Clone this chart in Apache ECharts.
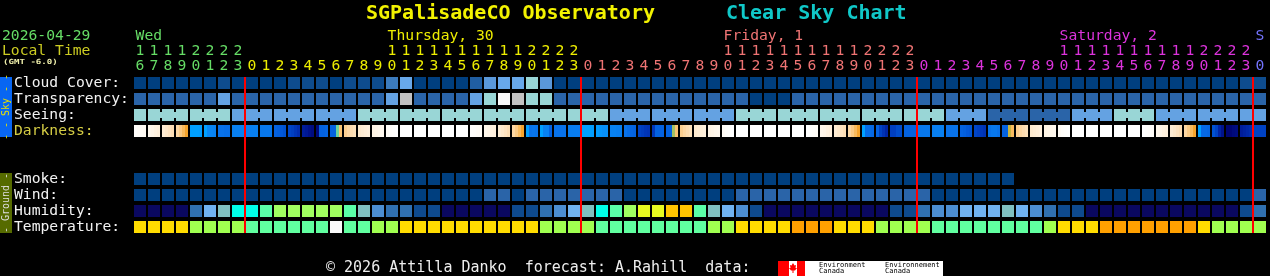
<!DOCTYPE html>
<html><head><meta charset="utf-8">
<script src="https://cdn.jsdelivr.net/npm/echarts@6/dist/echarts.min.js"></script>
<style>html,body{margin:0;padding:0;background:#000;}#c{width:1270px;height:276px;}</style>
</head><body><div id="c"></div>
<script>
// ---------- DATA ----------
const hours = ['16','17','18','19','20','21','22','23',
  '0','1','2','3','4','5','6','7','8','9','10','11','12','13','14','15','16','17','18','19','20','21','22','23',
  '0','1','2','3','4','5','6','7','8','9','10','11','12','13','14','15','16','17','18','19','20','21','22','23',
  '0','1','2','3','4','5','6','7','8','9','10','11','12','13','14','15','16','17','18','19','20','21','22','23',
  '0'];
const rowLabels = ['Cloud Cover:','Transparency:','Seeing:','Darkness:',' ','  ','Smoke:','Wind:','Humidity:','Temperature:'];
const dayNames = ['Wed','Thursday, 30','Friday, 1','Saturday, 2','S'];
const dayNameCols = [0,18,42,66,80];

// cloud cover, percent
const cloud = [0,0,0,0,0,0,10,0,
  0,0,0,10,10,10,0,10,10,10,30,50,0,0,0,0,20,40,50,50,70,40,0,0,
  0,0,0,0,0,0,0,0,0,0,0,0,0,0,0,0,0,0,0,0,0,0,0,0,
  0,0,0,0,0,0,0,0,0,0,0,0,0,0,0,0,0,0,0,0,0,0,0,10,
  10];
// transparency level 0 (too cloudy) .. 5 (transparent)
const transparency = [4,4,4,4,4,4,3,4,
  4,4,4,4,4,4,4,4,4,4,3,1,4,4,4,4,3,2,0,1,2,2,4,4,
  4,4,4,4,4,4,4,4,4,4,4,4,5,5,5,4,4,4,4,4,4,4,4,4,
  4,4,4,4,4,4,4,4,4,4,4,4,4,4,4,4,4,4,4,4,4,4,4,4,
  4];
// seeing level per 3-hour block (first block = first hour only), 1 bad .. 5 excellent
const seeingBlocks = [2,2,2,3,3,3,2,2,2,2,2,2,3,3,3,2,2,2,2,2,3,4,4,3,2,3,3,3];
// darkness, limiting magnitude per quarter hour
const darkness = [
  [-3.8,-3.7,-3.6,-3.5],[-3.3,-3.2,-3.0,-2.9],[-2.7,-2.5,-2.3,-2.1],[-1.8,-1.4,-1.0,-0.5],
  [1.5,1.5,1.5,1.6],[1.5,2.3,2.4,2.5],[3.0,3.0,3.1,3.1],[2.6,2.6,2.6,2.6],
  [2.6,2.6,2.6,2.6],[2.8,2.8,2.8,2.8],[3.5,3.6,3.8,4.0],[4.4,4.6,4.9,5.2],
  [5.8,6.0,6.3,6.5],[6.6,3.5,3.5,3.4],[3.5,3.5,0.5,-1.2],[-1.5,-1.8,-2.0,-2.2],
  [-2.6,-2.7,-2.8,-2.9],[-3.1,-3.2,-3.3,-3.4],[-3.6,-3.8,-3.9,-4],[-4,-4,-4,-4],
  [-4,-4,-4,-4],[-4,-4,-4,-4],[-4,-4,-4,-4],[-4,-4,-4,-4],
  [-3.9,-3.8,-3.7,-3.6],[-3.3,-3.2,-3.0,-2.9],[-2.7,-2.5,-2.3,-2.1],[-1.8,-1.4,-1.0,-0.5],
  [1.5,3.0,2.9,3.0],[1.5,2.5,2.5,3.5],[3.0,3.0,3.0,3.0],[2.7,2.7,2.7,2.7],
  [1.5,1.5,1.5,1.6],[1.6,1.8,2.0,2.0],[2.5,2.5,2.6,2.6],[3.0,3.2,3.4,3.5],
  [4.5,4.7,4.9,5.0],[4.8,3.5,3.5,3.5],[3.5,3.5,0.2,-1.2],[-1.5,-1.8,-2.0,-2.2],
  [-2.6,-2.7,-2.8,-2.9],[-3.1,-3.2,-3.3,-3.4],[-3.6,-3.8,-3.9,-4],[-4,-4,-4,-4],
  [-4,-4,-4,-4],[-4,-4,-4,-4],[-4,-4,-4,-4],[-4,-4,-4,-4],
  [-4,-3.9,-3.8,-3.7],[-3.3,-3.2,-3.0,-2.9],[-2.7,-2.5,-2.3,-2.1],[-1.8,-1.4,-1.0,-0.5],
  [1.5,3.2,3.2,3.3],[3.5,4.5,5.0,5.5],[4.6,4.6,4.2,4.2],[3.5,3.5,3.5,3.5],
  [2.8,2.8,2.8,2.8],[2.6,2.6,2.6,2.6],[3.0,3.0,3.0,3.0],[3.5,3.6,3.8,3.9],
  [4.4,4.6,4.8,5.0],[3.0,2.8,2.8,3.0],[3.5,3.5,0.0,-1.0],[-1.5,-1.8,-2.0,-2.2],
  [-2.6,-2.7,-2.8,-2.9],[-3.1,-3.2,-3.3,-3.4],[-3.6,-3.8,-3.9,-4],[-4,-4,-4,-4],
  [-4,-4,-4,-4],[-4,-4,-4,-4],[-4,-4,-4,-4],[-4,-4,-4,-4],
  [-4,-3.9,-3.8,-3.7],[-3.3,-3.2,-3.0,-2.9],[-2.7,-2.5,-2.3,-2.1],[-1.8,-1.4,-1.0,-0.5],
  [1.5,3.3,3.3,3.4],[4.0,4.5,5.5,6.2],[6.8,6.8,6.6,6.5],[5.8,5.6,5.4,5.2],
  [4.5,4.5,4.5,4.5]];
// smoke (ug/m3), forecast ends early
const smoke = [0,0,0,0,0,0,0,0,
  0,0,0,0,0,0,0,0,0,0,0,0,0,0,0,0,0,0,0,0,0,0,0,0,
  0,0,0,0,0,0,0,0,0,0,0,0,0,0,0,0,0,0,0,0,0,0,0,0,
  0,0,0,0,0,0,0,null,null,null,null,null,null,null,null,null,null,null,null,null,null,null,null,null,
  null];
// wind, mph
const wind = [3,3,3,3,3,3,3,3,
  3,3,3,3,3,3,3,3,3,3,3,3,3,3,3,3,3,8,8,3,8,8,8,8,
  8,8,8,3,3,3,3,3,3,3,3,8,8,8,8,8,8,8,8,8,8,8,8,8,
  8,3,3,3,3,3,3,3,3,3,3,3,3,3,3,3,3,3,3,3,3,3,3,3,
  8];
// relative humidity, percent
const humidity = [20,20,20,20,32,42,47,52,
  52,57,62,62,62,62,62,57,47,37,32,32,27,27,20,20,20,20,20,27,27,32,37,42,
  47,52,57,62,67,67,72,72,57,47,42,37,27,20,20,20,20,20,20,20,20,20,27,27,
  32,37,37,42,42,42,47,42,37,32,27,27,20,20,20,20,20,20,20,20,20,20,20,27,
  32];
// temperature, deg F
const temperature = [63,63,63,63,54,54,54,54,
  45,45,45,45,45,45,38,45,45,54,54,63,63,63,63,63,63,63,63,63,63,54,54,54,
  54,45,45,45,45,45,45,45,45,54,54,63,63,63,63,72,72,72,63,63,63,54,54,54,
  54,45,45,45,45,45,45,45,45,54,63,63,63,72,72,72,72,72,72,72,63,54,54,54,
  54];

// ---------- CHART ----------
const FONT = 'DejaVu Sans Mono';
const FS = 14.7;
const dayColors = ['#66dd66','#eeee00','#f07474','#dd33dd','#7474ff'];
const dayOfCol = [];
(function(){ let d = 0; hours.forEach((h,k)=>{ if (k>0 && h==='0') d++; dayOfCol.push(d); }); })();

function cells(values, row){ const out=[]; values.forEach((v,k)=>{ if(v!==null && v!==undefined) out.push([k,row,v]); }); return out; }
const seeingData = [];
hours.forEach((h,k)=>{
  const b = k===0 ? 0 : Math.floor((k-1)/3)+1;
  const bn = k+1 < hours.length ? Math.floor(k/3)+1 : -1;
  seeingData.push([k, 2, seeingBlocks[b], (k>0 && bn===b) ? 1 : 0]);
});
const darkData = [];
darkness.forEach((qs,k)=>qs.forEach((v,q)=>darkData.push([k,3,q,v])));
const midData = [];
hours.forEach((h,k)=>{ if (k>0 && h==='0') midData.push([k,0]); });

function renderCell(params, api){
  const c = api.coord([api.value(0), api.value(1)]);
  const s = api.size([1,1]);
  const w = s[0]-2, h = s[1]-4;
  return {type:'rect', shape:{x:c[0]-w/2, y:c[1]-h/2, width:w, height:h}, style:{fill:api.visual('color')}};
}
function renderSeeing(params, api){
  const c = api.coord([api.value(0), api.value(1)]);
  const s = api.size([1,1]);
  const w = s[0]-2, h = s[1]-4, fill = api.visual('color');
  const ch = [{type:'rect', shape:{x:c[0]-w/2, y:c[1]-h/2, width:w, height:h}, style:{fill:fill}}];
  if (api.value(3)) ch.push({type:'rect', shape:{x:c[0]+w/2-0.5, y:c[1]-h/4, width:s[0]-w+1, height:h/2}, style:{fill:fill}});
  return {type:'group', children:ch};
}
function renderDark(params, api){
  const c = api.coord([api.value(0), api.value(1)]);
  const s = api.size([1,1]);
  const w = s[0]-2, h = s[1]-4, qw = w/4, q = api.value(2);
  return {type:'rect', shape:{x:c[0]-w/2+q*qw, y:c[1]-h/2, width:qw, height:h}, style:{fill:api.visual('color')}};
}
function renderMid(params, api){
  const k = api.value(0);
  const t = api.coord([k,0]), b = api.coord([k,9]);
  const s = api.size([1,1]);
  const h = s[1]-4;
  return {type:'rect', shape:{x:t[0]-s[0]/2-1, y:t[1]-h/2, width:2, height:b[1]-t[1]+h}, style:{fill:'#ff0000'}};
}
function cs(name, data, render){
  return {type:'custom', name:name, data:data, renderItem:render, encode:{x:0,y:1}, silent:true, clip:false};
}
const blueScale = [{value:0,color:'#f8f8f8'},{value:1,color:'#c2c2c2'},{value:2,color:'#99d6d6'},{value:3,color:'#64a2e2'},{value:4,color:'#2a64a8'},{value:5,color:'#003f7f'}];
const darkColors = ['#ffffff','#fffaf2','#fff2e0','#fee8ca','#fddcb0','#fccf90','#f9bb5e','#f6a42c','#c8b440','#6cd49c','#20b8f0','#00a0ff','#0890f8','#0882f2','#0872ea','#0462e0','#0052d2','#0042c4','#0032b4','#0024a4','#001894','#000c80','#00006a'];

const option = {
  backgroundColor:'#000',
  animation:false,
  grid:{left:133, width:1134, top:75, height:160, containLabel:false},
  xAxis:{type:'category', position:'top', data:hours,
    axisLine:{show:false}, axisTick:{show:false}, splitLine:{show:false},
    axisLabel:{interval:0, margin:1, fontFamily:FONT, fontSize:FS, lineHeight:15,
      formatter:function(v,i){ const h=+v, d=dayOfCol[i]; const t = h>=10 ? String(Math.floor(h/10)) : ' '; return '{d'+d+'|'+t+'}\n{d'+d+'|'+(h%10)+'}'; },
      rich:{
        d0:{color:dayColors[0], fontFamily:FONT, fontSize:FS, lineHeight:15},
        d1:{color:dayColors[1], fontFamily:FONT, fontSize:FS, lineHeight:15},
        d2:{color:dayColors[2], fontFamily:FONT, fontSize:FS, lineHeight:15},
        d3:{color:dayColors[3], fontFamily:FONT, fontSize:FS, lineHeight:15},
        d4:{color:dayColors[4], fontFamily:FONT, fontSize:FS, lineHeight:15}
      }}},
  yAxis:{type:'category', inverse:true, data:rowLabels,
    axisLine:{show:false}, axisTick:{show:false}, splitLine:{show:false},
    axisLabel:{interval:0, align:'left', margin:119, fontFamily:FONT, fontSize:FS,
      color:function(v){ return v==='Darkness:' ? '#d4cc44' : '#f2f2f2'; }}},
  visualMap:[
    {type:'piecewise', show:false, seriesIndex:0, dimension:2, pieces:[
      {lt:5,color:'#003f7f'},{gte:5,lt:15,color:'#0e4c8e'},{gte:15,lt:25,color:'#205ea2'},{gte:25,lt:35,color:'#3c7cbe'},
      {gte:35,lt:45,color:'#5a98da'},{gte:45,lt:55,color:'#68a8ea'},{gte:55,lt:65,color:'#80c0e0'},{gte:65,lt:75,color:'#99d6d6'},
      {gte:75,lt:85,color:'#c2c2c2'},{gte:85,lt:95,color:'#e9e9e9'},{gte:95,color:'#fbfbfb'}]},
    {type:'piecewise', show:false, seriesIndex:1, dimension:2, pieces:blueScale},
    {type:'piecewise', show:false, seriesIndex:2, dimension:2, pieces:blueScale},
    {type:'continuous', show:false, seriesIndex:3, dimension:3, min:-4, max:7, inRange:{color:darkColors}},
    {type:'piecewise', show:false, seriesIndex:4, dimension:2, pieces:[
      {lt:2,color:'#003f7f'},{gte:2,lt:5,color:'#2a64a8'},{gte:5,lt:10,color:'#64a2e2'},{gte:10,color:'#99d6d6'}]},
    {type:'piecewise', show:false, seriesIndex:5, dimension:2, pieces:[
      {lt:6,color:'#003f7f'},{gte:6,lt:12,color:'#2a64a8'},{gte:12,lt:17,color:'#64a2e2'},{gte:17,lt:29,color:'#99d6d6'},{gte:29,color:'#f8f8f8'}]},
    {type:'piecewise', show:false, seriesIndex:6, dimension:2, pieces:[
      {lt:25,color:'#0a0860'},{gte:25,lt:30,color:'#0e4a8e'},{gte:30,lt:35,color:'#3070b0'},{gte:35,lt:40,color:'#4c8ed2'},
      {gte:40,lt:45,color:'#70b2f0'},{gte:45,lt:50,color:'#80c0c0'},{gte:50,lt:55,color:'#00ffe8'},{gte:55,lt:60,color:'#5affa8'},
      {gte:60,lt:65,color:'#a0ff60'},{gte:65,lt:70,color:'#e8fa20'},{gte:70,lt:75,color:'#ffc400'},{gte:75,color:'#ff9000'}]},
    {type:'piecewise', show:false, seriesIndex:7, dimension:2, pieces:[
      {lt:41,color:'#fafafa'},{gte:41,lt:50,color:'#60ffa0'},{gte:50,lt:59,color:'#a0ff50'},{gte:59,lt:68,color:'#ffdc00'},
      {gte:68,lt:77,color:'#ffa000'},{gte:77,color:'#ff6000'}]}
  ],
  series:[
    cs('Cloud Cover', cells(cloud,0), renderCell),
    cs('Transparency', cells(transparency,1), renderCell),
    cs('Seeing', seeingData, renderSeeing),
    cs('Darkness', darkData, renderDark),
    cs('Smoke', cells(smoke,6), renderCell),
    cs('Wind', cells(wind,7), renderCell),
    cs('Humidity', cells(humidity,8), renderCell),
    cs('Temperature', cells(temperature,9), renderCell),
    cs('Midnight', midData, renderMid)
  ]
};

const chart = echarts.init(document.getElementById('c'), null, {renderer:'canvas', width:1270, height:276});
chart.setOption(option);

function txt(x,y,text,color,size,extra){
  const s = {text:text, fill:color, font:(extra&&extra.weight?extra.weight+' ':'')+size+'px "'+FONT+'"', textAlign:(extra&&extra.align)||'left', textVerticalAlign:'middle'};
  const el = {type:'text', x:x, y:y, style:s, silent:true};
  if (extra && extra.rotation) el.rotation = extra.rotation;
  if (extra && extra.scaleX) el.scaleX = extra.scaleX;
  return el;
}
const graphics = [
  txt(366,13.5,'SGPalisadeCO Observatory','#f2f200',20,{weight:'bold'}),
  txt(726,13.5,'Clear Sky Chart','#10c8c8',20,{weight:'bold'}),
  txt(2,36.5,'2026-04-29','#66dd66',FS),
  txt(2,51.5,'Local Time','#cccc22',FS),
  txt(3,62,'(GMT -6.0)','#eeeeaa',7,{weight:'bold',scaleX:1.3}),
  {type:'rect', shape:{x:0,y:77,width:12,height:60}, style:{fill:'#0866f2'}, silent:true},
  txt(6.5,107,'- - Sky - -','#e8e000',10,{align:'center',rotation:Math.PI/2}),
  {type:'rect', shape:{x:0,y:173,width:12,height:60}, style:{fill:'#566b00'}, silent:true},
  txt(6.5,203,'- Ground -','#dddddd',10,{align:'center',rotation:Math.PI/2}),
  txt(326,268.5,'\u00a9 2026 Attilla Danko  forecast: A.Rahill  data:','#eeeeee',15),
  {type:'rect', shape:{x:778,y:261,width:165,height:15}, style:{fill:'#ffffff'}, silent:true},
  {type:'rect', shape:{x:778,y:261,width:11,height:15}, style:{fill:'#ff0000'}, silent:true},
  {type:'rect', shape:{x:797,y:261,width:8,height:15}, style:{fill:'#ff0000'}, silent:true},
  {type:'polygon', shape:{points:[[793,263],[794.5,265.5],[796,265],[795.5,268],[797,268],[795,270.5],[793.5,270.5],[793.5,273],[792.5,273],[792.5,270.5],[791,270.5],[789,268],[790.5,268],[790,265],[791.5,265.5]]}, style:{fill:'#ff0000'}, silent:true},
  txt(819,265,'Environment','#000000',7),
  txt(819,271.5,'Canada','#000000',7),
  txt(885,265,'Environnement','#000000',7),
  txt(885,271.5,'Canada','#000000',7)
];
dayNames.forEach((name,i)=>{
  const px = chart.convertToPixel({xAxisIndex:0}, dayNameCols[i]);
  const d = dayOfCol[dayNameCols[i]];
  graphics.push(txt(px-4.4, 36.5, name, dayColors[d], FS));
});
chart.setOption({graphic:graphics});
</script></body></html>
